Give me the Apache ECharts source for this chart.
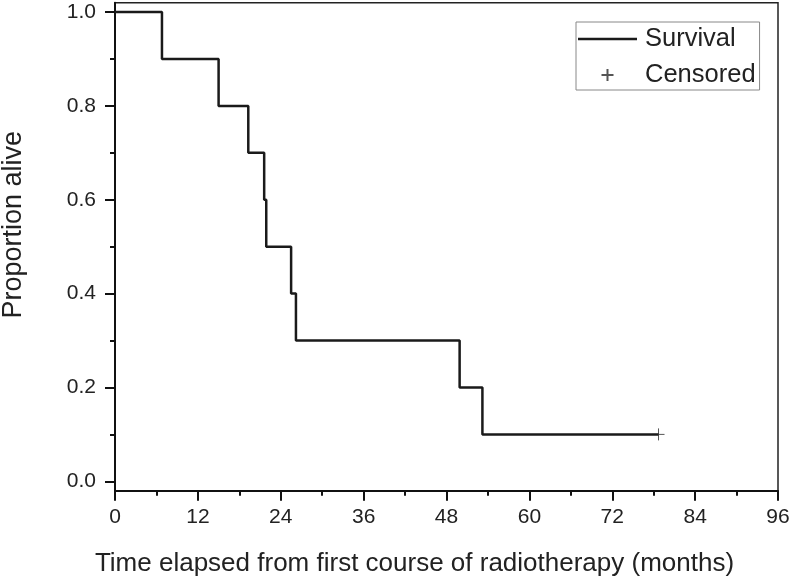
<!DOCTYPE html>
<html>
<head>
<meta charset="utf-8">
<script src="https://cdn.jsdelivr.net/npm/echarts@6/dist/echarts.min.js"></script>
<style>
html,body{margin:0;padding:0;background:#fff;}
#chart{width:791px;height:581px;}
</style>
</head>
<body>
<div id="chart"></div>
<script>
// Kaplan-Meier survival data (months, proportion alive)
const times = [0, 6.8, 15.0, 19.3, 21.6, 21.9, 25.5, 26.2, 49.9, 53.2, 78.7];
const survival = [1.0, 0.9, 0.8, 0.7, 0.6, 0.5, 0.4, 0.3, 0.2, 0.1, 0.1];
const censoredTimes = [78.7];
const censoredValues = [0.1];
const yMajorTicks = [0.0, 0.2, 0.4, 0.6, 0.8, 1.0];
const yMinorTicks = [0.1, 0.3, 0.5, 0.7, 0.9];
const xTitle = 'Time elapsed from first course of radiotherapy (months)';
const yTitle = 'Proportion alive';
const seriesNames = ['Survival', 'Censored'];

const FONT = '"Liberation Sans", Arial, sans-serif';
const survData = times.map((t, i) => [t, survival[i]]);
const censData = censoredTimes.map((t, i) => [t, censoredValues[i]]);

const chart = echarts.init(document.getElementById('chart'), null, {renderer: 'canvas'});
chart.setOption({
  animation: false,
  backgroundColor: '#fff',
  textStyle: {fontFamily: FONT},
  grid: {left: 115, right: 13, top: 2.7, bottom: 90.3, containLabel: false, outerBoundsMode: 'none',
    show: true, borderColor: '#222', borderWidth: 1.5, backgroundColor: 'transparent'},
  legend: {
    left: 576, top: 22,
    orient: 'vertical',
    borderColor: '#888', borderWidth: 1, borderRadius: 0,
    padding: [4, 4, 2, 2],
    itemGap: 10,
    itemWidth: 59, itemHeight: 12,
    symbolKeepAspect: true,
    textStyle: {fontSize: 25.5, color: '#222', fontFamily: FONT, padding: [0, 0, 0, 3]},
    data: [
      {name: seriesNames[0], icon: 'path://M0,0L59,0L59,2.5L0,2.5Z', itemStyle: {color: '#1a1a1a'}},
      {name: seriesNames[1]}
    ]
  },
  xAxis: {
    type: 'value', min: 0, max: 96, interval: 12,
    name: xTitle, nameLocation: 'middle', nameGap: 60,
    nameTextStyle: {fontSize: 26, color: '#222', fontFamily: FONT, padding: [0, 64, 0, 0]},
    axisLine: {show: true, onZero: false, lineStyle: {color: '#111', width: 2}},
    axisTick: {show: true, length: 10, lineStyle: {color: '#111', width: 2}},
    minorTick: {show: true, splitNumber: 2, length: 5, lineStyle: {color: '#111', width: 2}},
    axisLabel: {fontSize: 21, color: '#222', margin: 16, fontFamily: FONT},
    splitLine: {show: false}, minorSplitLine: {show: false}
  },
  yAxis: [{
    type: 'value', min: -0.02, max: 1.02,
    name: yTitle, nameLocation: 'middle', nameGap: 88, nameRotate: 90,
    nameTextStyle: {fontSize: 27, color: '#222', fontFamily: FONT, padding: [0, 0, 0, 44]},
    axisLine: {show: true, onZero: false, lineStyle: {color: '#111', width: 2}},
    axisTick: {show: true, length: 10, customValues: yMajorTicks, lineStyle: {color: '#111', width: 2}},
    axisLabel: {fontSize: 21, color: '#222', margin: 19, fontFamily: FONT, customValues: yMajorTicks,
      formatter: v => v.toFixed(1)},
    splitLine: {show: false}
  }, {
    type: 'value', min: -0.02, max: 1.02, position: 'left',
    axisLine: {show: false, onZero: false},
    axisTick: {show: true, length: 5, customValues: yMinorTicks, lineStyle: {color: '#111', width: 2}},
    axisLabel: {show: false},
    splitLine: {show: false}
  }],
  series: [{
    name: seriesNames[0], type: 'line', step: 'end',
    data: survData, symbol: 'none', showSymbol: false,
    lineStyle: {color: '#1a1a1a', width: 2.5},
    itemStyle: {color: '#1a1a1a'}
  }, {
    name: seriesNames[1], type: 'scatter',
    data: censData,
    symbol: 'path://M5,0L5,10M0,5L10,5', symbolSize: 12,
    itemStyle: {color: 'none', borderColor: '#555', borderWidth: 1, opacity: 1}
  }]
});
</script>
</body>
</html>
